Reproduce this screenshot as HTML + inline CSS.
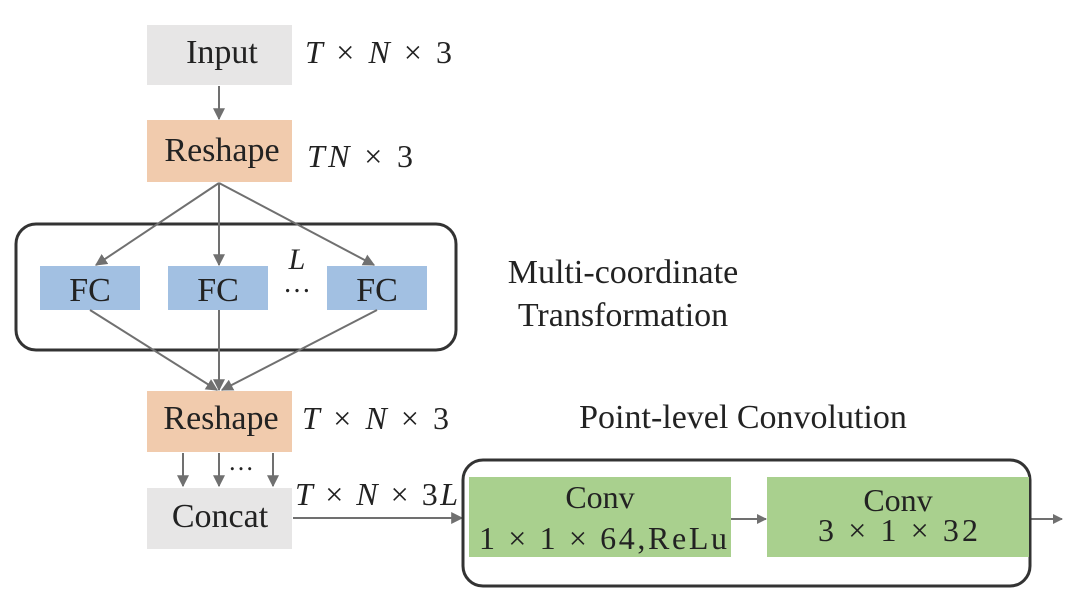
<!DOCTYPE html>
<html><head><style>
body{margin:0;width:1080px;height:609px;background:#fff;overflow:hidden}
</style></head><body>
<svg width="1080" height="609" xmlns="http://www.w3.org/2000/svg" font-family="Liberation Serif, serif">
<defs><marker id="a" viewBox="0 0 10 10" refX="9" refY="5" markerWidth="10" markerHeight="10" markerUnits="userSpaceOnUse" orient="auto"><path d="M0,0L10,5L0,10z" fill="#707070"/></marker>
<marker id="b" viewBox="0 0 10 10" refX="9" refY="5" markerWidth="12" markerHeight="12" markerUnits="userSpaceOnUse" orient="auto"><path d="M0,0L10,5L0,10z" fill="#707070"/></marker></defs>
<rect x="147" y="25" width="145" height="60" fill="#e7e6e6"/>
<text x="222" y="63" font-size="34" text-anchor="middle" fill="#222">Input</text>
<text x="305" y="63" font-size="32" font-style="italic" fill="#222" textLength="147" lengthAdjust="spacing">T <tspan font-style="normal">×</tspan> N <tspan font-style="normal">× 3</tspan></text>
<rect x="147" y="120" width="145" height="62" fill="#f1cbad"/>
<text x="222" y="161" font-size="34" text-anchor="middle" fill="#222">Reshape</text>
<text x="307" y="167" font-size="32" font-style="italic" fill="#222" textLength="106" lengthAdjust="spacing">TN <tspan font-style="normal">× 3</tspan></text>
<rect x="16" y="224" width="440" height="126" rx="20" fill="none" stroke="#333" stroke-width="3"/>
<rect x="40" y="266" width="100" height="44" fill="#a2c0e2"/>
<rect x="168" y="266" width="100" height="44" fill="#a2c0e2"/>
<rect x="327" y="266" width="100" height="44" fill="#a2c0e2"/>
<g font-size="34" text-anchor="middle" fill="#222"><text x="90" y="301">FC</text><text x="218" y="301">FC</text><text x="377" y="301">FC</text></g>
<text x="297" y="269" font-size="30" font-style="italic" fill="#222" text-anchor="middle">L</text>
<text x="297" y="292" font-size="28" fill="#222" text-anchor="middle">…</text>
<g stroke="#707070" stroke-width="2" fill="none" marker-end="url(#b)">
<line x1="219" y1="86" x2="219" y2="119"/>
<line x1="219" y1="183" x2="96" y2="265"/><line x1="219" y1="183" x2="219" y2="265"/><line x1="219" y1="183" x2="374" y2="265"/>
<line x1="90" y1="310" x2="217" y2="390"/><line x1="219" y1="310" x2="219" y2="390"/><line x1="377" y1="310" x2="222" y2="390"/>
<line x1="183" y1="453" x2="183" y2="486"/><line x1="219" y1="453" x2="219" y2="486"/><line x1="273" y1="453" x2="273" y2="486"/>
<line x1="293" y1="518" x2="462" y2="518"/><line x1="731" y1="519" x2="766" y2="519" marker-end="url(#a)"/><line x1="1031" y1="519" x2="1062" y2="519" marker-end="url(#a)"/>
</g>
<text x="623" y="283" font-size="34" text-anchor="middle" fill="#222">Multi-coordinate</text>
<text x="623" y="326" font-size="34" text-anchor="middle" fill="#222">Transformation</text>
<rect x="147" y="391" width="145" height="61" fill="#f1cbad"/>
<text x="221" y="429" font-size="34" text-anchor="middle" fill="#222">Reshape</text>
<text x="302" y="429" font-size="32" font-style="italic" fill="#222" textLength="147" lengthAdjust="spacing">T <tspan font-style="normal">×</tspan> N <tspan font-style="normal">× 3</tspan></text>
<text x="241" y="470" font-size="26" text-anchor="middle" fill="#222">…</text>
<rect x="147" y="488" width="145" height="61" fill="#e7e6e6"/>
<text x="220" y="527" font-size="34" text-anchor="middle" fill="#222">Concat</text>
<text x="295" y="505" font-size="32" font-style="italic" fill="#222" textLength="163" lengthAdjust="spacing">T <tspan font-style="normal">×</tspan> N <tspan font-style="normal">× 3</tspan>L</text>
<text x="743" y="428" font-size="34" text-anchor="middle" fill="#222">Point-level Convolution</text>
<rect x="463" y="460" width="567" height="126" rx="20" fill="none" stroke="#333" stroke-width="3"/>
<rect x="469" y="477" width="262" height="80" fill="#a9d08e"/>
<rect x="767" y="477" width="262" height="80" fill="#a9d08e"/>
<g font-size="32" text-anchor="middle" fill="#222"><text x="600" y="508">Conv</text><text x="603" y="549" textLength="248" lengthAdjust="spacing">1 × 1 × 64,ReLu</text><text x="898" y="511">Conv</text><text x="898" y="541" textLength="160" lengthAdjust="spacing">3 × 1 × 32</text></g>
</svg>
</body></html>
